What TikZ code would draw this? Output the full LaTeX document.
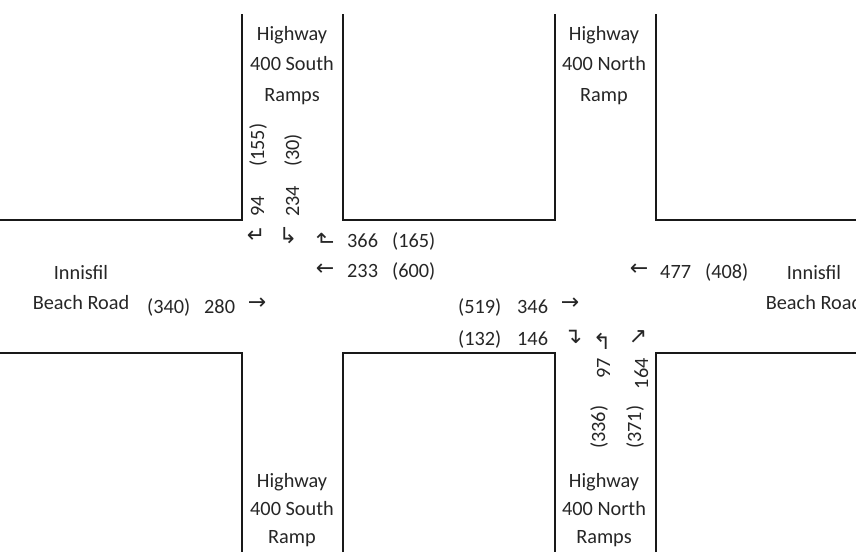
\documentclass[tikz,border=0pt]{standalone}
\usepackage{fontspec}
\setmainfont{Carlito}
\newfontfamily\arrowfont{DejaVu Sans}
\usepackage{tikz}
\usetikzlibrary{positioning}

\begin{document}
\begin{tikzpicture}[
  x=1pt, y=-1pt,
  curb/.style={line width=1.8pt, draw=black!90},
  txt/.style={inner sep=0pt, text=black!85, font=\fontsize{20.3}{30}\selectfont},
  rampname/.style={txt, align=center},
  cnt/.style={txt, anchor=base west},
  vcnt/.style={txt, rotate=90},
  mvt/.style={inner sep=0pt, text=black!85, font=\arrowfont\fontsize{22}{22}\selectfont}
]
  \useasboundingbox (0,0) rectangle (856,552);

  % Curbs: four corners of the two intersections
  \draw[curb] (0,220) -- (242,220) -- (242,14);
  \draw[curb] (343,14) -- (343,220) -- (555,220) -- (555,14);
  \draw[curb] (656,14) -- (656,220) -- (856,220);
  \draw[curb] (0,353) -- (242,353) -- (242,552);
  \draw[curb] (343,552) -- (343,353) -- (555,353) -- (555,552);
  \draw[curb] (656,552) -- (656,353) -- (856,353);

  % Road names
  \node[rampname, font=\fontsize{20.3}{30.5}\selectfont] (sRampTop) at (292,65.5) {Highway\\400 South\\Ramps};
  \node[rampname, font=\fontsize{20.3}{30.5}\selectfont] (nRampTop) at (604,65.5) {Highway\\400 North\\Ramp};
  \node[rampname, font=\fontsize{20.3}{28}\selectfont] (sRampBot) at (292,510) {Highway\\400 South\\Ramp};
  \node[rampname, font=\fontsize{20.3}{28}\selectfont] (nRampBot) at (604,510) {Highway\\400 North\\Ramps};
  \node[rampname] (roadW) at (81,288) {Innisfil\\Beach Road};
  \node[rampname] (roadE) at (814,288) {Innisfil\\Beach Road};

  % South ramps: southbound approach
  \node[vcnt, anchor=base west] (sbL2) at (264,167) {(155)};
  \node[vcnt, anchor=base west] (sbL1) at (264,217) {94};
  \node[vcnt, anchor=base west] (sbR2) at (299,167) {(30)};
  \node[vcnt, anchor=base west] (sbR1) at (299,217) {234};
  \node[mvt] (sbL) at (256,236) {↵};
  \node[mvt] (sbR) at (288,236) {↳};

  % South ramps: westbound approach
  \node[mvt, rotate=-90] (wbR) at (325,239) {↲};
  \node[cnt] (wbR1) at (347,247) {366};
  \node[cnt] (wbR2) at (392,247) {(165)};
  \node[mvt] (wbT) at (325,270) {←};
  \node[cnt] (wbT1) at (347,277) {233};
  \node[cnt] (wbT2) at (392,277) {(600)};

  % South ramps: eastbound approach
  \node[cnt] (ebT2) at (147,313) {(340)};
  \node[cnt] (ebT1) at (204,313) {280};
  \node[mvt] (ebT) at (257,304) {→};

  % North ramps: eastbound approach
  \node[cnt] (neT2) at (458,313) {(519)};
  \node[cnt] (neT1) at (517,313) {346};
  \node[mvt] (neT) at (570,304) {→};
  \node[cnt] (neR2) at (458,345) {(132)};
  \node[cnt] (neR1) at (517,345) {146};
  \node[mvt] (neR) at (573,337) {↴};

  % North ramps: westbound approach
  \node[mvt] (nwT) at (639,270) {←};
  \node[cnt] (nwT1) at (660,278) {477};
  \node[cnt] (nwT2) at (705,278) {(408)};

  % North ramps: northbound approach
  \node[mvt] (nbL) at (602,341) {↰};
  \node[mvt] (nbR) at (638,337) {↗};
  \node[vcnt, anchor=base east] (nbL1) at (610,358) {97};
  \node[vcnt, anchor=base west] (nbL2) at (605,449) {(336)};
  \node[vcnt, anchor=base east] (nbR1) at (648,358) {164};
  \node[vcnt, anchor=base west] (nbR2) at (641,449) {(371)};
\end{tikzpicture}
\end{document}
